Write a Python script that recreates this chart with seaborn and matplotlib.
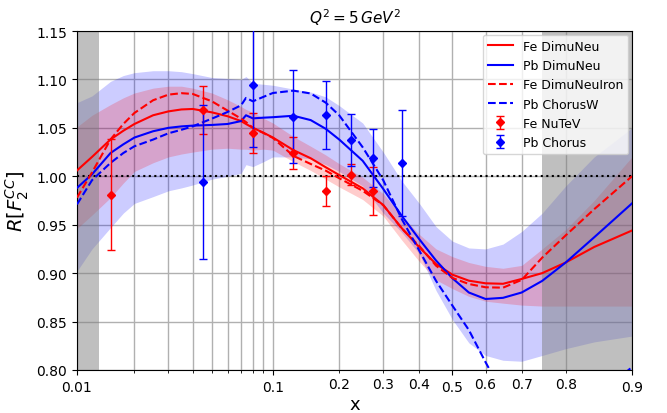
import matplotlib
matplotlib.use("Agg")
import matplotlib.pyplot as plt
import seaborn as sns
import pandas as pd
from matplotlib.ticker import FixedLocator, FixedFormatter

# ---------------- data ----------------
x_grid = [0.01, 0.012, 0.015, 0.0175, 0.02, 0.025, 0.03, 0.035, 0.04, 0.05, 0.06, 0.07, 0.074,
          0.08, 0.09, 0.1, 0.125, 0.15, 0.175, 0.2, 0.25, 0.3, 0.35, 0.4, 0.45,
          0.5, 0.55, 0.6, 0.65, 0.7, 0.75, 0.8, 0.85, 0.9]

fe_dimuneu = [1.006, 1.020, 1.038, 1.047, 1.054, 1.063, 1.067, 1.069, 1.0695, 1.066, 1.062, 1.057, 1.054,
              1.050, 1.045, 1.040, 1.027, 1.0186, 1.0093, 1.0013, 0.9876, 0.9703, 0.9463, 0.9267, 0.9094,
              0.8984, 0.8922, 0.8895, 0.889, 0.894, 0.900, 0.911, 0.927, 0.944]

pb_dimuneu = [0.988, 1.002, 1.024, 1.033, 1.040, 1.0465, 1.050, 1.0515, 1.0523, 1.053, 1.054, 1.057, 1.063,
              1.0598, 1.0605, 1.061, 1.0625, 1.058, 1.049, 1.038, 1.016, 0.987, 0.959, 0.935, 0.913,
              0.8947, 0.880, 0.8733, 0.8745, 0.880, 0.892, 0.911, 0.937, 0.972]

fe_dimuneuiron = [0.978, 1.004, 1.038, 1.054, 1.0654, 1.0785, 1.0843, 1.0858, 1.085, 1.0774, 1.0678, 1.0595, 1.056,
                  1.050, 1.0447, 1.0396, 1.021, 1.0127, 1.0058, 0.998, 0.985, 0.9703, 0.946, 0.928, 0.9077,
                  0.895, 0.8888, 0.8854, 0.885, 0.893, 0.916, 0.939, 0.966, 1.000]

pb_chorusw = [0.971, 0.996, 1.0138, 1.024, 1.031, 1.0379, 1.0444, 1.048, 1.0516, 1.0595, 1.0664, 1.0733, 1.0809,
              1.0774, 1.082, 1.086, 1.0884, 1.0855, 1.076, 1.063, 1.030, 0.996, 0.9556, 0.9232, 0.892,
              0.8664, 0.8413, 0.808, 0.775, 0.750, 0.740, 0.750, 0.770, 0.803]

# uncertainty bands
fe_band_hi = [1.051, 1.063, 1.074, 1.081, 1.086, 1.091, 1.093, 1.093, 1.091, 1.086, 1.079, 1.072, 1.069,
              1.066, 1.060, 1.055, 1.041, 1.031, 1.022, 1.013, 0.999, 0.982, 0.959, 0.940, 0.925,
              0.917, 0.911, 0.907, 0.905, 0.908, 0.925, 0.945, 0.975, 1.020]
fe_band_lo = [0.946, 0.960, 0.978, 0.993, 1.005, 1.014, 1.020, 1.023, 1.025, 1.028, 1.029, 1.028, 1.028,
              1.027, 1.028, 1.027, 1.015, 1.006, 0.997, 0.989, 0.976, 0.959, 0.934, 0.912, 0.893,
              0.884, 0.876, 0.871, 0.869, 0.867, 0.866, 0.866, 0.866, 0.866]
pb_band_hi = [1.076, 1.083, 1.098, 1.104, 1.107, 1.109, 1.109, 1.108, 1.106, 1.102, 1.101, 1.100, 1.103,
              1.096, 1.095, 1.094, 1.090, 1.087, 1.082, 1.073, 1.055, 1.025, 0.995, 0.972, 0.948,
              0.933, 0.926, 0.925, 0.930, 0.943, 0.962, 0.990, 1.020, 1.050]
pb_band_lo = [0.902, 0.925, 0.947, 0.962, 0.972, 0.979, 0.985, 0.988, 0.991, 0.997, 1.000, 1.003, 1.012,
              1.010, 1.015, 1.020, 1.020, 1.018, 1.012, 1.005, 0.990, 0.962, 0.942, 0.920, 0.882,
              0.852, 0.828, 0.815, 0.810, 0.809, 0.815, 0.822, 0.829, 0.835]

# data points
nutev_x = [0.015, 0.045, 0.08, 0.125, 0.175, 0.225, 0.275]
nutev_y = [0.981, 1.0685, 1.0447, 1.0237, 0.9846, 1.0017, 0.985]
nutev_err = [0.0575, 0.025, 0.021, 0.0165, 0.0157, 0.011, 0.0245]

chorus_x = [0.045, 0.08, 0.125, 0.175, 0.225, 0.275, 0.35]
chorus_y = [0.994, 1.0946, 1.0613, 1.063, 1.0372, 1.0188, 1.0135]
chorus_err = [0.0795, 0.0646, 0.048, 0.035, 0.027, 0.030, 0.055]

major_ticks = [0.01, 0.1, 0.5, 0.9]
major_labels = ['0.01', '0.1', '0.5', '0.9']
minor_ticks = [0.02, 0.03, 0.04, 0.05, 0.06, 0.07, 0.08, 0.09, 0.2, 0.3, 0.4, 0.6, 0.7, 0.8]
minor_labels = ['', '', '', '', '', '', '', '', '0.2', '0.3', '0.4', '0.6', '0.7', '0.8']
y_ticks = [0.80, 0.85, 0.90, 0.95, 1.00, 1.05, 1.10, 1.15]

# ---------------- plot ----------------
plt.rcParams['font.family'] = ['DejaVu Sans']
df = pd.DataFrame({'x': x_grid, 'fe': fe_dimuneu, 'pb': pb_dimuneu,
                   'fei': fe_dimuneuiron, 'pbc': pb_chorusw})

fig = plt.figure(figsize=(6.67, 4.14), dpi=100)
ax = fig.add_axes([0.1154, 0.1039, 0.8321, 0.8188])
ax.set_xscale('logit')

ax.fill_between(x_grid, pb_band_lo, pb_band_hi, color='blue', alpha=0.2, lw=0, zorder=1)
ax.fill_between(x_grid, fe_band_lo, fe_band_hi, color='red', alpha=0.2, lw=0, zorder=1.1)

ax.axvspan(0.01, 0.013, color='gray', alpha=0.5, lw=0, zorder=1.5)
ax.axvspan(0.75, 0.9, color='gray', alpha=0.5, lw=0, zorder=1.5)

sns.lineplot(data=df, x='x', y='fe', color='red', lw=1.5, label='Fe DimuNeu', ax=ax, zorder=3, sort=False)
sns.lineplot(data=df, x='x', y='pb', color='blue', lw=1.5, label='Pb DimuNeu', ax=ax, zorder=3, sort=False)
sns.lineplot(data=df, x='x', y='fei', color='red', lw=1.5, linestyle='--', label='Fe DimuNeuIron', ax=ax, zorder=3, sort=False)
sns.lineplot(data=df, x='x', y='pbc', color='blue', lw=1.5, linestyle='--', label='Pb ChorusW', ax=ax, zorder=3, sort=False)

ax.axhline(1.0, color='black', ls=':', lw=1.5, zorder=2.5)

ax.errorbar(nutev_x, nutev_y, yerr=nutev_err, fmt='D', color='red', markersize=4,
            capsize=3, elinewidth=1, capthick=1, label='Fe NuTeV', zorder=4)
ax.errorbar(chorus_x, chorus_y, yerr=chorus_err, fmt='D', color='blue', markersize=4,
            capsize=3, elinewidth=1, capthick=1, label='Pb Chorus', zorder=4)

ax.set_xlim(0.01, 0.9)
ax.set_ylim(0.8, 1.15)
ax.xaxis.set_major_locator(FixedLocator(major_ticks))
ax.xaxis.set_major_formatter(FixedFormatter(major_labels))
ax.xaxis.set_minor_locator(FixedLocator(minor_ticks))
ax.xaxis.set_minor_formatter(FixedFormatter(minor_labels))
ax.set_yticks(y_ticks)
ax.set_yticklabels([f'{v:.2f}' for v in y_ticks])
ax.tick_params(axis='both', which='both', labelsize=10)

ax.set_axisbelow(True)
ax.xaxis.grid(True, which='both', color='#b0b0b0', lw=1.0)
ax.yaxis.grid(True, which='major', color='#b0b0b0', lw=1.0)

ax.set_xlabel('x', fontsize=13, labelpad=1)
ax.set_ylabel(r'$R[F_2^{CC}]$', fontsize=14)
ax.set_title(r'$Q^2=5\,GeV^2$', fontsize=11)

ax.legend(loc='upper right', fontsize=9, borderaxespad=0.3)

fig.savefig('out.png', dpi=100)
